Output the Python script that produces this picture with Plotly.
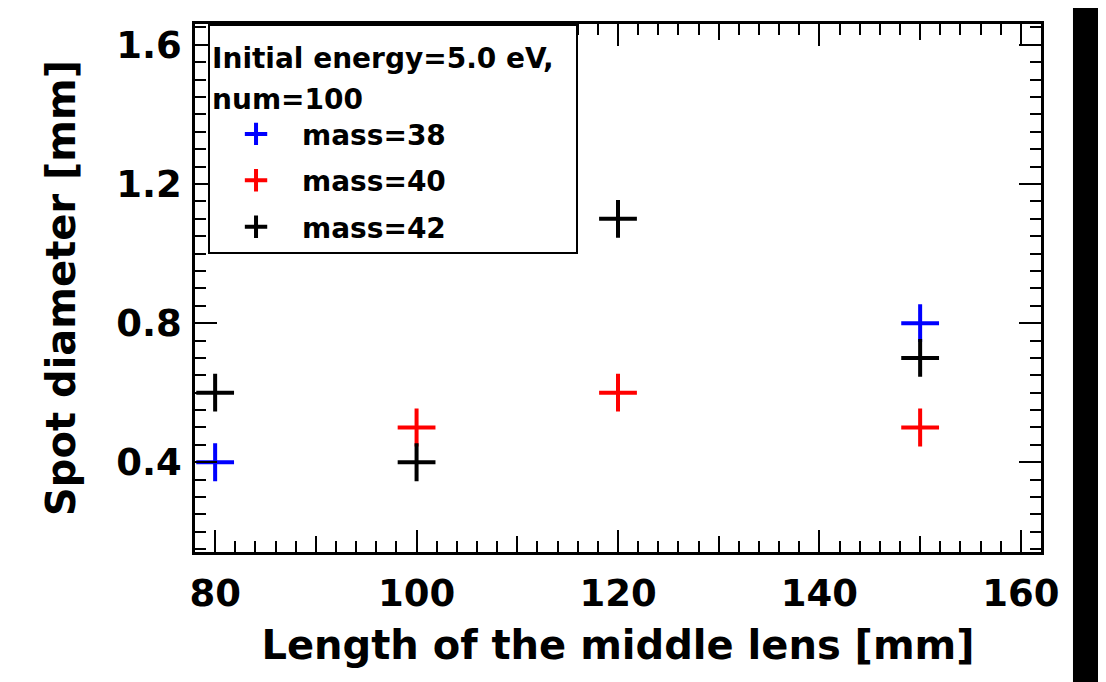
import plotly.graph_objects as go

# Data
series_names = ["mass=38", "mass=40", "mass=42"]
colors = ["#0000ff", "#ff0000", "#000000"]
x_m38 = [80, 150]
y_m38 = [0.4, 0.8]
x_m40 = [100, 120, 150]
y_m40 = [0.5, 0.6, 0.5]
x_m42 = [80, 100, 120, 150]
y_m42 = [0.6, 0.4, 1.1, 0.7]

legend_title_lines = ["Initial energy=5.0 eV,&nbsp;&nbsp;", "num=100"]
x_title = "Length of the middle lens [mm]"
y_title = "Spot diameter [mm]"

FONT = "DejaVu Sans"

legend_title = "<br>".join('<span style="font-size:28px">%s</span>' % s for s in legend_title_lines)

fig = go.Figure()
for name, xs, ys, c in zip(series_names, [x_m38, x_m40, x_m42], [y_m38, y_m40, y_m42], colors):
    fig.add_trace(go.Scatter(
        x=xs, y=ys, mode="markers", name=name, legendgroup=name,
        marker=dict(symbol="cross-thin", size=27, line=dict(color=c, width=4), color=c),
    ))

# helper axis for the medium ticks every 10
fig.add_trace(go.Scatter(x=[None], y=[None], xaxis="x2", showlegend=False, hoverinfo="skip"))

xr = [78, 162]
yr = [0.142, 1.66]

fig.update_layout(
    width=1098, height=674,
    margin=dict(l=187, r=65, t=16, b=130),
    paper_bgcolor="white", plot_bgcolor="white",
    font=dict(family=FONT, color="black", weight="bold"),
    xaxis=dict(
        range=xr, dtick=20, tick0=0, ticks="inside", ticklen=22, tickwidth=2, tickcolor="black",
        showline=True, linewidth=2.5, linecolor="black", mirror="ticks",
        showgrid=False, zeroline=False,
        tickfont=dict(size=37, family=FONT, weight="bold"),
        ticklabelstandoff=7,
        minor=dict(dtick=2, ticks="inside", ticklen=11, tickwidth=2, tickcolor="black", showgrid=False),
        title=dict(text=x_title, font=dict(size=40, family=FONT, weight="bold"), standoff=17),
    ),
    xaxis2=dict(
        range=xr, overlaying="x", anchor="y", side="bottom", dtick=10, tick0=0,
        ticks="inside", ticklen=16, tickwidth=2, tickcolor="black",
        showticklabels=False, showline=False, showgrid=False, zeroline=False, mirror="ticks",
    ),
    yaxis=dict(
        range=yr, dtick=0.4, tick0=0, ticks="inside", ticklen=22, tickwidth=2, tickcolor="black",
        showline=True, linewidth=2.5, linecolor="black", mirror="ticks",
        showgrid=False, zeroline=False, tickformat=".1f",
        tickfont=dict(size=37, family=FONT, weight="bold"),
        ticklabelstandoff=3,
        minor=dict(dtick=0.05, ticks="inside", ticklen=11, tickwidth=2, tickcolor="black", showgrid=False),
        title=dict(text=y_title, font=dict(size=40, family=FONT, weight="bold"), standoff=29),
    ),
    legend=dict(
        x=0.0154, y=1.0, xanchor="left", yanchor="top",
        bgcolor="white", bordercolor="black", borderwidth=2,
        font=dict(size=28, family=FONT, weight="bold", color="black"),
        title=dict(text=legend_title, font=dict(size=32, family=FONT, weight="bold")),
        itemwidth=82, traceorder="grouped", tracegroupgap=7,
    ),
    shapes=[dict(type="rect", xref="paper", yref="paper", x0=1.0378, x1=1.2, y0=-0.4, y1=1.2,
                 fillcolor="black", line=dict(width=0), layer="above")],
)

fig.write_html("out.html")
